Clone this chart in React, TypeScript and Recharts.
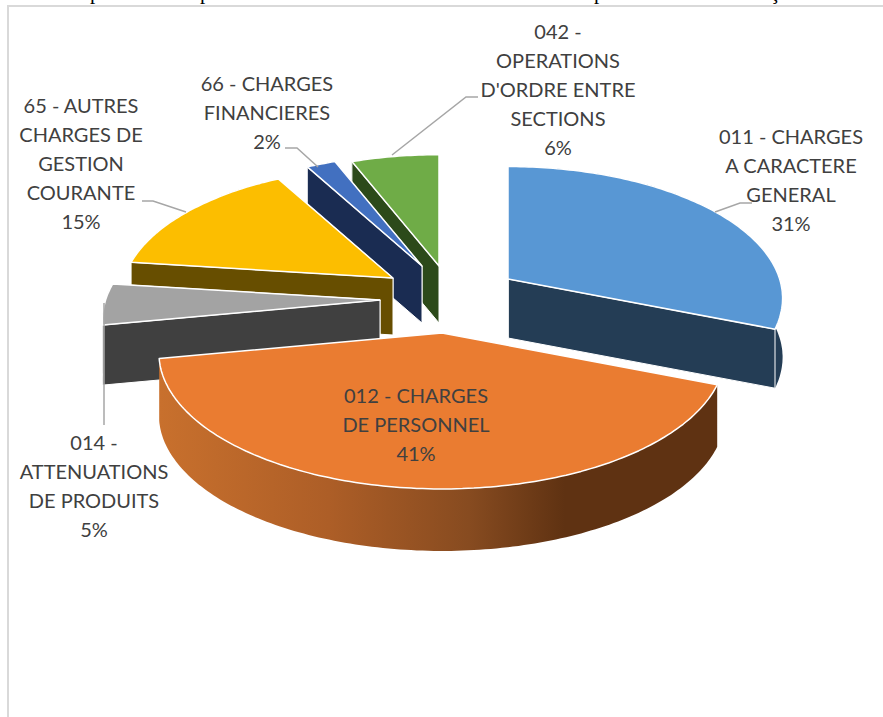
import React from "react";
import { PieChart, Pie } from "recharts";

// Draw order runs counter-clockwise from 12 o'clock (back slices first, front slices over them).
const categories = [
  "042 - OPERATIONS D'ORDRE ENTRE SECTIONS",
  "66 - CHARGES FINANCIERES",
  "65 - AUTRES CHARGES DE GESTION COURANTE",
  "014 - ATTENUATIONS DE PRODUITS",
  "012 - CHARGES DE PERSONNEL",
  "011 - CHARGES A CARACTERE GENERAL",
];
const values = [6, 2, 15, 5, 41, 31];
const labelLines = [
  ["042 -", "OPERATIONS", "D'ORDRE ENTRE", "SECTIONS"],
  ["66 - CHARGES", "FINANCIERES"],
  ["65 - AUTRES", "CHARGES DE", "GESTION", "COURANTE"],
  ["014 -", "ATTENUATIONS", "DE PRODUITS"],
  ["012 - CHARGES", "DE PERSONNEL"],
  ["011 - CHARGES", "A CARACTERE", "GENERAL"],
];
const topColors = ["#6FAC47", "#4270C0", "#FCBE00", "#A3A3A3", "#EA7C31", "#5897D4"];
const sideColors = ["#2C4A1A", "#1A2C52", "#674E00", "#404040", "url(#orangeWall)", "#243D55"];

// Layout: explode offsets from the pie centre, per-slice size and depth, label anchors, leader lines.
const explode = [
  [-11, -24],
  [-28, -24],
  [-57, -12],
  [-70, 10],
  [-8, 43],
  [58, -11],
];
const sizeScale = [0.96, 0.96, 0.96, 0.98, 1, 0.97];
const depths = [57, 57, 57, 60, 62, 59];
const labelAnchors = [
  [558, 31],
  [267, 83],
  [81, 105],
  [94, 442],
  [416, 395],
  [791, 136],
];
const leaders = [
  "392,155 466,97 478,97",
  "318,167 297,148 285,148",
  "186,212 153,201 142,201",
  "104,303 104,425",
  "",
  "715,212 740,203 752,203",
];

const CX = 450;
const CY = 290;
const RADIUS = 280;
const FLATTEN = 133 / 280;
const PERSPECTIVE = 0.147;
const LINE_HEIGHT = 29;
const FONT = "Lato, 'Open Sans', sans-serif";

const data = categories.map((name, i) => ({ name, value: values[i] }));

type P = [number, number];
const path = (pts: P[]) =>
  "M" + pts.map((p) => `${p[0].toFixed(1)},${p[1].toFixed(1)}`).join("L") + "Z";

function Slice(props: any) {
  const i = categories.indexOf(props.name ?? props.payload?.name);
  const { cx, cy, outerRadius, startAngle, endAngle } = props;
  const ax = cx + explode[i][0];
  const ay = cy + explode[i][1];
  const r = outerRadius * sizeScale[i];
  const project = (deg: number): P => {
    const a = (deg * Math.PI) / 180;
    const u = Math.cos(a);
    const v = -Math.sin(a);
    const s = 1 / (1 - PERSPECTIVE * v);
    return [ax + r * u * s, ay + r * FLATTEN * v * s];
  };
  const arc: P[] = [];
  const n = Math.max(2, Math.ceil(Math.abs(endAngle - startAngle)));
  for (let k = 0; k <= n; k++) arc.push(project(startAngle + ((endAngle - startAngle) * k) / n));
  const down = (p: P): P => [p[0], p[1] + depths[i]];
  const apex: P = [ax, ay];
  const wall = [...arc, ...arc.slice().reverse().map(down)];
  const faceA = [apex, arc[0], down(arc[0]), down(apex)];
  const faceB = [apex, arc[n], down(arc[n]), down(apex)];
  const side = sideColors[i];
  // A slice spanning the front of the pie hides both of its cut faces behind its top.
  const spansFront = startAngle < 270 && endAngle > 270;
  return (
    <g>
      <path d={path(wall)} fill={side} stroke="none" />
      {!spansFront && <path d={path(faceA)} fill={side} stroke="#fff" strokeWidth={1} />}
      {!spansFront && <path d={path(faceB)} fill={side} stroke="#fff" strokeWidth={1} />}
      <path d={path([apex, ...arc])} fill={topColors[i]} stroke="#fff" strokeWidth={1.5} strokeLinejoin="round" />
    </g>
  );
}

function SliceLabel(props: any) {
  const i = categories.indexOf(props.name ?? props.payload?.name);
  const [x, y] = labelAnchors[i];
  const lines = [...labelLines[i], `${Math.round(props.percent * 100)}%`];
  return (
    <g>
      {leaders[i] && <polyline points={leaders[i]} fill="none" stroke="#A6A6A6" strokeWidth={1.5} />}
      <text x={x} y={y} textAnchor="middle" fontFamily={FONT} fontSize={20} fill="#404040">
        {lines.map((line, k) => (
          <tspan key={k} x={x} y={y + k * LINE_HEIGHT} dominantBaseline="central">
            {line}
          </tspan>
        ))}
      </text>
    </g>
  );
}

const clippedGlyphs: [string, number][] = [
  ["p", 90],
  ["p", 200],
  ["p", 594],
  ["ç", 770],
];

export default function App() {
  return (
    <div style={{ position: "absolute", left: 0, top: 0, width: 883, height: 717, background: "#fff", overflow: "hidden" }}>
      <div style={{ position: "absolute", left: 0, top: 0, width: 883, height: 4, overflow: "hidden" }}>
        {clippedGlyphs.map(([g, x], k) => (
          <span key={k} style={{ position: "absolute", left: x, top: -20, fontFamily: "'Liberation Serif', serif", fontSize: 21, lineHeight: "24px", color: "#000" }}>
            {g}
          </span>
        ))}
      </div>
      <div style={{ position: "absolute", left: 7, top: 5, width: 876, height: 712, boxSizing: "border-box", borderTop: "2px solid #D9D9D9", borderLeft: "2px solid #D9D9D9" }} />
      <div style={{ position: "absolute", left: 0, top: 0 }}>
        <PieChart width={883} height={717} margin={{ top: 0, right: 0, bottom: 0, left: 0 }}>
          <defs>
            <linearGradient id="orangeWall" gradientUnits="userSpaceOnUse" x1={160} y1={0} x2={722} y2={0}>
              <stop offset="0" stopColor="#C8702D" />
              <stop offset="0.3" stopColor="#AD5E27" />
              <stop offset="0.55" stopColor="#874B20" />
              <stop offset="0.72" stopColor="#5F3212" />
              <stop offset="1" stopColor="#5F3212" />
            </linearGradient>
          </defs>
          <Pie
            data={data}
            dataKey="value"
            nameKey="name"
            cx={CX}
            cy={CY}
            innerRadius={0}
            outerRadius={RADIUS}
            startAngle={90}
            endAngle={450}
            stroke="none"
            isAnimationActive={false}
            shape={Slice}
            label={SliceLabel}
            labelLine={false}
          />
        </PieChart>
      </div>
    </div>
  );
}
